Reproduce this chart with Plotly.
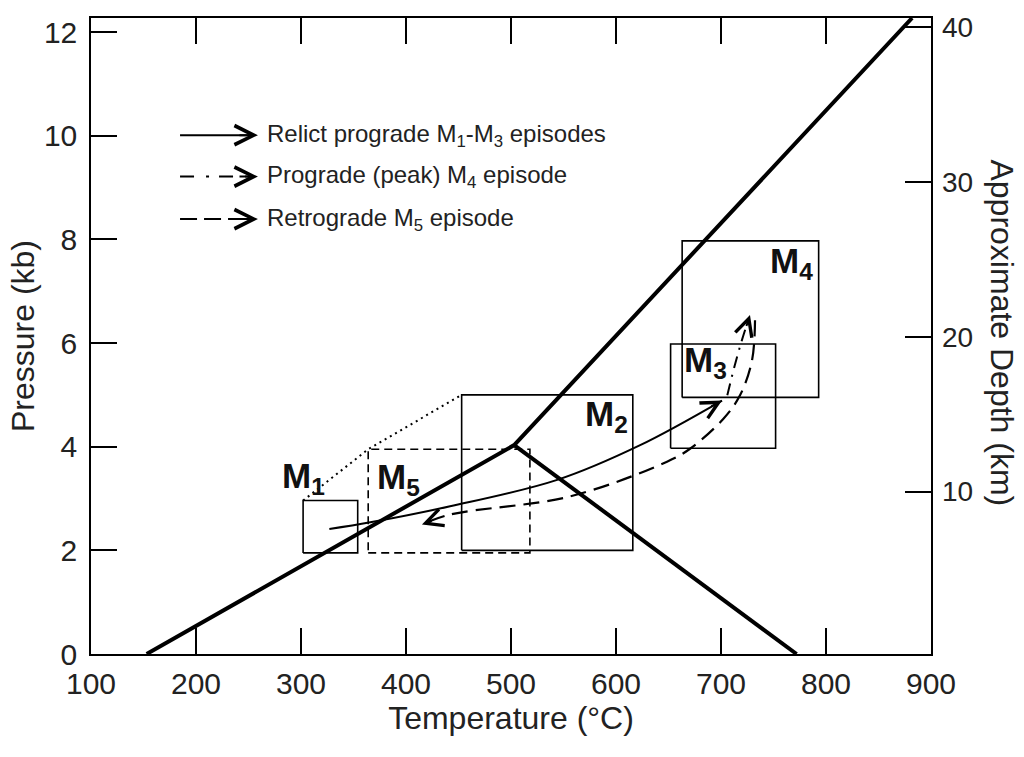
import plotly.graph_objects as go

# ---------------- data ----------------
# kinked geotherm (thick line)
geo_up_T = [153, 503, 882]
geo_up_P = [0.0, 4.03, 12.27]
geo_down_T = [503, 772]
geo_down_P = [4.03, 0.0]

# metamorphic episode P-T boxes
box_names = ["M1", "M2", "M3", "M4", "M5"]
box_Tmin = [302, 453, 652, 663, 364]
box_Tmax = [354, 616, 752, 793, 518]
box_Pmin = [1.95, 2.0, 3.97, 4.95, 1.95]
box_Pmax = [2.96, 5.0, 5.98, 7.97, 3.95]

# dotted connectors between box corners (M1 -> M5 -> M2)
link_T = [302, 364, 453]
link_P = [2.96, 3.95, 5.0]

# P-T paths
pro_T = [327, 366, 442, 544, 623, 701]          # relict prograde M1-M3
pro_P = [2.41, 2.54, 2.85, 3.36, 4.03, 4.89]
peak_T = [706, 713, 720, 727.6]                  # prograde (peak) M4
peak_P = [4.99, 5.56, 6.06, 6.54]
retro_T = [732.4, 729.5, 718.1, 701.9, 670.5, 648.6, 556.2, 441.9, 415.2]  # retrograde M5
retro_P = [6.44, 5.66, 4.99, 4.53, 3.96, 3.71, 3.04, 2.69, 2.50]

# episode labels
label_sub = ["1", "5", "2", "3", "4"]
label_T = [280, 370, 569, 663, 745]
label_P = [3.39, 3.37, 4.60, 5.63, 7.54]

# legend
legend_text = ["Relict prograde M<sub>1</sub>-M<sub>3</sub> episodes",
               "Prograde (peak) M<sub>4</sub> episode",
               "Retrograde M<sub>5</sub> episode"]
legend_P = [10.01, 9.21, 8.39]
legend_T0, legend_T1, legend_Ttip, legend_Ttext = 184.8, 250, 259, 265.5

x_ticks = [100, 200, 300, 400, 500, 600, 700, 800, 900]
p_ticks = [0, 2, 4, 6, 8, 10, 12]
depth_ticks = [10, 20, 30, 40]

FONT = "Liberation Sans, Arial, Helvetica, sans-serif"
BLACK = "black"
TXT = "#222"

fig = go.Figure()

# geotherm
fig.add_trace(go.Scatter(x=geo_up_T, y=geo_up_P, mode="lines",
                         line=dict(color=BLACK, width=4)))
fig.add_trace(go.Scatter(x=geo_down_T, y=geo_down_P, mode="lines",
                         line=dict(color=BLACK, width=4)))

# boxes
for name, t0, t1, p0, p1 in zip(box_names, box_Tmin, box_Tmax, box_Pmin, box_Pmax):
    dash = "8px,5px" if name == "M5" else "solid"
    fig.add_trace(go.Scatter(x=[t0, t1, t1, t0, t0], y=[p0, p0, p1, p1, p0],
                             mode="lines", line=dict(color=BLACK, width=1.6, dash=dash)))

# dotted connectors
fig.add_trace(go.Scatter(x=link_T, y=link_P, mode="lines",
                         line=dict(color=BLACK, width=2, dash="2px,4px")))

# paths
fig.add_trace(go.Scatter(x=pro_T, y=pro_P, mode="lines",
                         line=dict(color=BLACK, width=2, shape="spline")))
fig.add_trace(go.Scatter(x=peak_T, y=peak_P, mode="lines",
                         line=dict(color=BLACK, width=2, shape="spline",
                                   dash="12px,7px,2px,7px")))
fig.add_trace(go.Scatter(x=retro_T, y=retro_P, mode="lines",
                         line=dict(color=BLACK, width=2.2, shape="spline",
                                   dash="16px,8px")))

# legend samples
legend_dash = ["solid", "14px,12px,3px,10px", "17px,7px"]
for p, d in zip(legend_P, legend_dash):
    fig.add_trace(go.Scatter(x=[legend_T0, legend_T1], y=[p, p], mode="lines",
                             line=dict(color=BLACK, width=2, dash=d)))


def arrow(tip_t, tip_p, back_t, back_p, size=1.7):
    fig.add_annotation(x=tip_t, y=tip_p, ax=back_t, ay=back_p,
                       xref="x", yref="y", axref="x", ayref="y",
                       text="", showarrow=True, arrowhead=5, arrowsize=size,
                       arrowwidth=2, arrowcolor=BLACK)


# arrowheads on the paths (direction taken from the last two path points)
arrow(pro_T[-1], pro_P[-1], pro_T[-1] - 0.15 * (pro_T[-1] - pro_T[-2]),
      pro_P[-1] - 0.15 * (pro_P[-1] - pro_P[-2]))
arrow(peak_T[-1], peak_P[-1], peak_T[-1] - 0.5 * (peak_T[-1] - peak_T[-2]),
      peak_P[-1] - 0.5 * (peak_P[-1] - peak_P[-2]))
arrow(retro_T[-1], retro_P[-1], retro_T[-1] - 0.4 * (retro_T[-1] - retro_T[-2]),
      retro_P[-1] - 0.4 * (retro_P[-1] - retro_P[-2]))
for p in legend_P:
    arrow(legend_Ttip, p, legend_T1 - 10, p, size=1.9)

# legend texts
for txt, p in zip(legend_text, legend_P):
    fig.add_annotation(x=legend_Ttext, y=p, xref="x", yref="y", text=txt,
                       showarrow=False, xanchor="left", yanchor="middle",
                       font=dict(family=FONT, size=24, color=TXT))

# episode labels
for sub, t, p in zip(label_sub, label_T, label_P):
    fig.add_annotation(x=t, y=p, xref="x", yref="y",
                       text="<b>M</b><sub><b>" + sub + "</b></sub>",
                       showarrow=False, xanchor="left", yanchor="middle",
                       font=dict(family=FONT, size=35, color="#111"))

# right axis title (reads top to bottom)
fig.add_annotation(x=1.108, y=0.5044, xref="paper", yref="paper",
                   text="Approximate Depth (km)", textangle=90, showarrow=False,
                   font=dict(family=FONT, size=32, color=TXT))

# dummy trace on y2 so the axis is drawn
fig.add_trace(go.Scatter(x=[None], y=[None], yaxis="y2", mode="lines"))

fig.update_layout(
    width=1024, height=757,
    margin=dict(l=91, r=93, t=12, b=103),
    plot_bgcolor="white", paper_bgcolor="white",
    showlegend=False,
    font=dict(family=FONT, color=TXT),
    xaxis=dict(range=[100, 900], tickvals=x_ticks, ticks="inside", ticklen=26,
               tickwidth=1.5, tickcolor=BLACK, showline=True, linewidth=1.5,
               linecolor=BLACK, mirror="ticks", showgrid=False, zeroline=False,
               ticklabelstandoff=2,
               tickfont=dict(family=FONT, size=30, color=TXT),
               title=dict(text="Temperature (°C)", standoff=0,
                          font=dict(family=FONT, size=32, color=TXT))),
    yaxis=dict(range=[0, 12.27], tickvals=p_ticks, ticks="inside", ticklen=26,
               tickwidth=1.5, tickcolor=BLACK, showline=True, linewidth=1.5,
               linecolor=BLACK, mirror=True, showgrid=False, zeroline=False,
               ticklabelstandoff=6,
               tickfont=dict(family=FONT, size=30, color=TXT),
               title=dict(text="Pressure (kb)", standoff=0,
                          font=dict(family=FONT, size=32, color=TXT))),
    yaxis2=dict(range=[-0.5, 40.6], tickvals=depth_ticks, overlaying="y",
                side="right", ticks="inside", ticklen=26, tickwidth=1.5,
                tickcolor=BLACK, showline=False, showgrid=False, zeroline=False,
                ticklabelstandoff=10,
                tickfont=dict(family=FONT, size=28, color=TXT)),
)

fig.write_html("out.html")
